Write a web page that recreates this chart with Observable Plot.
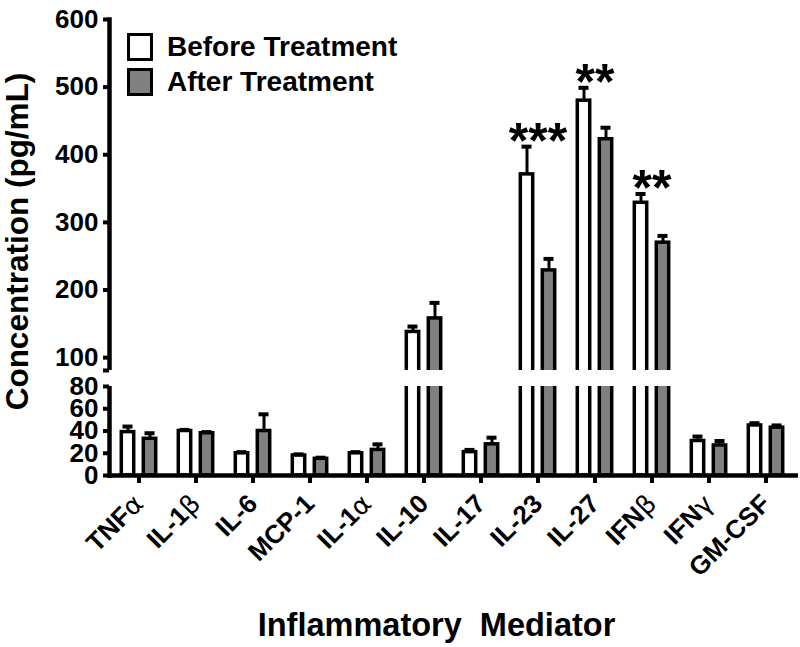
<!DOCTYPE html>
<html>
<head>
<meta charset="utf-8">
<script src="https://cdn.jsdelivr.net/npm/d3@7"></script>
<script src="https://cdn.jsdelivr.net/npm/@observablehq/plot@0.6"></script>
<style>
  html, body { margin: 0; padding: 0; background: #fff; }
  #wrap { position: relative; width: 800px; height: 647px; font-family: "Liberation Sans", Arial, sans-serif; }
  #legend { position: absolute; left: 127px; top: 29px; font-weight: bold; font-size: 28px; color: #000; }
  #legend .row { display: flex; align-items: center; height: 35px; }
  #legend .sw { box-sizing: border-box; width: 26px; height: 28px; border: 3.5px solid #000; margin-right: 14px; }
  g[aria-label="y-axis tick label"] { font-size: 26px; }
  g[aria-label="x-axis tick label"] { font-size: 26px; }
  g[aria-label="y-axis label"] { font-size: 31.5px; }
  g[aria-label="x-axis label"] { font-size: 32.5px; }
  g[aria-label="y-axis tick"], g[aria-label="x-axis tick"] { stroke-width: 4px; }
  .greek { font-weight: normal; font-family: "DejaVu Sans", sans-serif; }
</style>
</head>
<body>
<div id="wrap">
  <div id="chart"></div>
  <div id="legend"></div>
</div>
<script>
// ---- data ----
const categories = ["TNFα", "IL-1β", "IL-6", "MCP-1", "IL-1α", "IL-10", "IL-17", "IL-23", "IL-27", "IFNβ", "IFNγ", "GM-CSF"];
const beforeMean = [39, 40, 20, 18, 20, 138, 21, 371, 480, 329, 31, 45];
const beforeErr  = [5, 1, 1, 1, 1, 8, 2, 41, 19, 13, 4, 2];
const afterMean  = [33, 38, 40, 15, 23, 158, 28, 229, 423, 270, 27, 43];
const afterErr   = [5, 1, 15, 1, 5, 23, 6, 17, 17, 10, 4, 2];
const significance = ["", "", "", "", "", "", "", "***", "**", "**", "", ""];
const seriesNames = ["Before Treatment", "After Treatment"];
const seriesFill = ["#ffffff", "#808080"];
const yTicks = [0, 20, 40, 60, 80, 81, 100, 200, 300, 400, 500, 600];
const breakLow = 80, breakHigh = 81;

// ---- layout ----
const W = 800, H = 647, ML = 109, MR = 5, MT = 19, MB = 172;
const yBottom = H - MB;
const yRange = [yBottom, 386, 370, MT];
const barOffset = 11, barInset = 22.3, capInset = 23.5;

const rows = categories.map((cat, i) => ({
  cat,
  before: beforeMean[i], beforeTop: beforeMean[i] + beforeErr[i],
  after: afterMean[i], afterTop: afterMean[i] + afterErr[i],
  sig: significance[i]
}));

const chart = Plot.plot({
  width: W, height: H,
  marginLeft: ML, marginRight: MR, marginTop: MT, marginBottom: MB,
  style: { fontFamily: "Liberation Sans, Arial, sans-serif", fontWeight: "bold", color: "black", background: "white" },
  x: { type: "band", domain: categories, padding: 0 },
  y: { type: "linear", domain: [0, breakLow, breakHigh, 600], range: yRange },
  marks: [
    Plot.frame({ anchor: "left", stroke: "black", strokeWidth: 4.5 }),
    Plot.barY(rows, { x: "cat", y: "before", fill: seriesFill[0], stroke: "black", strokeWidth: 3.5, insetLeft: barInset, insetRight: barInset, dx: -barOffset }),
    Plot.barY(rows, { x: "cat", y: "after", fill: seriesFill[1], stroke: "black", strokeWidth: 3.5, insetLeft: barInset, insetRight: barInset, dx: barOffset }),
    Plot.ruleX(rows, { x: "cat", y1: "before", y2: "beforeTop", stroke: "black", strokeWidth: 3, dx: -barOffset }),
    Plot.ruleX(rows, { x: "cat", y1: "after", y2: "afterTop", stroke: "black", strokeWidth: 3, dx: barOffset }),
    Plot.tickY(rows, { x: "cat", y: "beforeTop", stroke: "black", strokeWidth: 4, insetLeft: capInset, insetRight: capInset, dx: -barOffset }),
    Plot.tickY(rows, { x: "cat", y: "afterTop", stroke: "black", strokeWidth: 4, insetLeft: capInset, insetRight: capInset, dx: barOffset }),
    Plot.rect([0], { y1: breakLow, y2: breakHigh, fill: "white", insetLeft: -10 }),
    Plot.ruleY([0], { stroke: "black", strokeWidth: 4.5, insetLeft: -2, insetRight: -3 }),
    Plot.axisY({ ticks: yTicks, tickFormat: d => d === breakHigh ? "" : d, tickSize: 6, tickPadding: 5,
      label: "Concentration (pg/mL)", labelAnchor: "center", labelOffset: 104, labelArrow: false }),
    Plot.axisX({ tickRotate: -45, tickSize: 8, tickPadding: 16,
      label: "Inflammatory  Mediator", labelAnchor: "center", labelOffset: 160, labelArrow: false }),
    Plot.text(rows.filter(d => d.sig), { x: "cat", y: "beforeTop", text: "sig", fontSize: 50, fontWeight: "bold", lineAnchor: "bottom", dy: 11 })
  ]
});
document.getElementById("chart").appendChild(chart);

// nudge the axis titles to where the reference has them
const nudge = (label, dx, dy) => {
  const g = chart.querySelector(`g[aria-label="${label}"]`);
  if (g) g.setAttribute("transform", `${g.getAttribute("transform") || ""} translate(${dx},${dy})`);
};
nudge("x-axis label", -16, 0);
nudge("y-axis label", 0, -6);

// Greek letters in a regular (non-bold) face, as in the reference
chart.querySelectorAll('g[aria-label="x-axis tick label"] text').forEach(t => {
  const s = t.textContent;
  const m = s.match(/[αβγ]/);
  if (m) {
    const idx = s.indexOf(m[0]);
    t.textContent = s.slice(0, idx);
    const ts = document.createElementNS("http://www.w3.org/2000/svg", "tspan");
    ts.setAttribute("class", "greek");
    ts.textContent = m[0];
    t.appendChild(ts);
  }
});

// legend
const legend = document.getElementById("legend");
seriesNames.forEach((name, i) => {
  const row = document.createElement("div");
  row.className = "row";
  const sw = document.createElement("span");
  sw.className = "sw";
  sw.style.background = seriesFill[i];
  const label = document.createElement("span");
  label.textContent = name;
  row.appendChild(sw); row.appendChild(label);
  legend.appendChild(row);
});
</script>
</body>
</html>
